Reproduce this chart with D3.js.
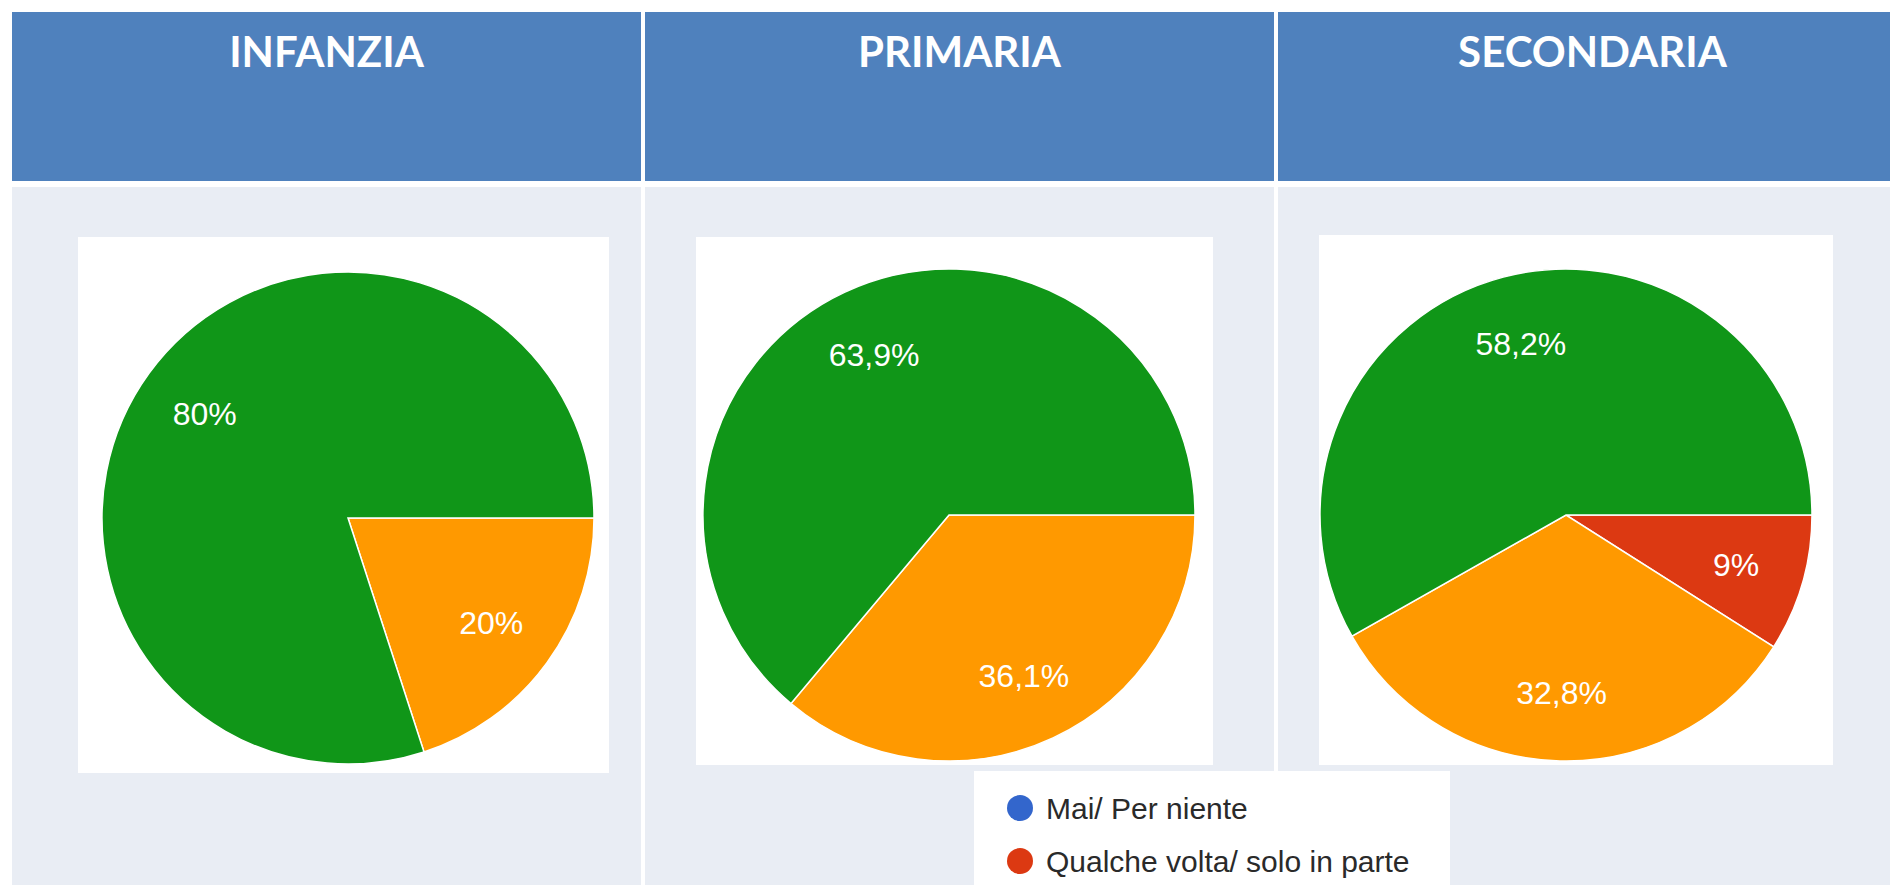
<!DOCTYPE html>
<html>
<head>
<meta charset="utf-8">
<script src="https://cdn.jsdelivr.net/npm/d3@7"></script>
<style>
  html, body { margin: 0; padding: 0; background: #fff; overflow: hidden; }
  svg { display: block; }
</style>
</head>
<body>
<svg width="1890" height="885"></svg>
<script>
(function() {
  // school levels (one column / one pie each)
  var levels = ["INFANZIA", "PRIMARIA", "SECONDARIA"];
  // answer categories, in pie order (Google palette)
  var categories = ["Mai/ Per niente", "Qualche volta/ solo in parte", "Abbastanza", "Molto"];
  var colors = ["#3366cc", "#dc3912", "#ff9900", "#109618"];
  // percentages per level, same order as categories
  var infanzia = [0, 0, 20, 80];
  var primaria = [0, 0, 36.1, 63.9];
  var secondaria = [0, 9, 32.8, 58.2];
  // only the first two legend rows are visible in the frame
  var legendLabels = ["Mai/ Per niente", "Qualche volta/ solo in parte"];

  var series = [infanzia, primaria, secondaria];

  var svg = d3.select("svg"),
      H = 885,
      top = 12, headerH = 169, gap = 6;

  // columns are 629px wide with a 4px white rule, last one runs off the frame
  var x = d3.scaleBand().domain(levels).range([12, 1907]).paddingInner(4 / 633);
  var color = d3.scaleOrdinal().domain(categories).range(colors);

  // table background: header band + light body band
  var cols = svg.selectAll(".col").data(levels).enter().append("g").attr("class", "col");
  cols.append("rect")
    .attr("x", function(d) { return x(d); })
    .attr("y", top)
    .attr("width", x.bandwidth())
    .attr("height", headerH)
    .attr("fill", "#4f81bd");
  cols.append("rect")
    .attr("x", function(d) { return x(d); })
    .attr("y", top + headerH + gap)
    .attr("width", x.bandwidth())
    .attr("height", H - (top + headerH + gap))
    .attr("fill", "#e9edf4");
  cols.append("text")
    .attr("x", function(d) { return x(d) + x.bandwidth() / 2; })
    .attr("y", 67)
    .attr("text-anchor", "middle")
    .attr("fill", "#fff")
    .style("font-family", "Lato, 'Open Sans', sans-serif")
    .style("font-weight", 700)
    .style("font-size", "42px")
    .text(function(d) { return d; });

  // chart panels (white card behind each pie)
  var panels = [
    {x: 78, y: 237, w: 531, h: 536, cx: 348, cy: 518},
    {x: 696, y: 237, w: 517, h: 528, cx: 949, cy: 515},
    {x: 1319, y: 235, w: 514, h: 530, cx: 1566, cy: 515}
  ];
  var r = 246;

  var pie = d3.pie().sort(null)
    .value(function(d) { return d.value; })
    .startAngle(Math.PI / 2).endAngle(Math.PI / 2 + 2 * Math.PI);
  var arc = d3.arc().innerRadius(0).outerRadius(r);
  var labelArc = d3.arc().innerRadius(r * 0.72).outerRadius(r * 0.72);
  var fmt = function(v) { return String(v).replace(".", ",") + "%"; };

  series.forEach(function(vals, i) {
    var p = panels[i];
    svg.append("rect")
      .attr("x", p.x).attr("y", p.y).attr("width", p.w).attr("height", p.h)
      .attr("fill", "#fff");

    var g = svg.append("g").attr("transform", "translate(" + p.cx + "," + p.cy + ")");
    var arcs = pie(vals.map(function(v, k) { return {key: categories[k], value: v}; })
      .filter(function(d) { return d.value > 0; }));

    g.selectAll("path").data(arcs).enter().append("path")
      .attr("d", arc)
      .attr("fill", function(d) { return color(d.data.key); })
      .attr("stroke", "#fff")
      .attr("stroke-width", 1.5);

    g.selectAll("text").data(arcs).enter().append("text")
      .attr("transform", function(d) { return "translate(" + labelArc.centroid(d) + ")"; })
      .attr("text-anchor", "middle")
      .attr("dy", "0.36em")
      .attr("fill", "#fff")
      .style("font-family", "'Liberation Sans', Arial, sans-serif")
      .style("font-size", "32px")
      .text(function(d) { return fmt(d.data.value); });
  });

  // legend card (cut off by the bottom of the frame)
  var lg = svg.append("g").attr("transform", "translate(974,771)");
  lg.append("rect").attr("width", 476).attr("height", 130).attr("fill", "#fff");
  var item = lg.selectAll(".item").data(legendLabels).enter().append("g")
    .attr("class", "item")
    .attr("transform", function(d, i) { return "translate(0," + (37 + i * 53) + ")"; });
  item.append("circle")
    .attr("cx", 46).attr("r", 13)
    .attr("fill", function(d) { return color(d); });
  item.append("text")
    .attr("x", 72).attr("dy", "0.36em")
    .attr("fill", "#2a2a2a")
    .style("font-family", "'Liberation Sans', Arial, sans-serif")
    .style("font-size", "30px")
    .text(function(d) { return d; });
})();
</script>
</body>
</html>
